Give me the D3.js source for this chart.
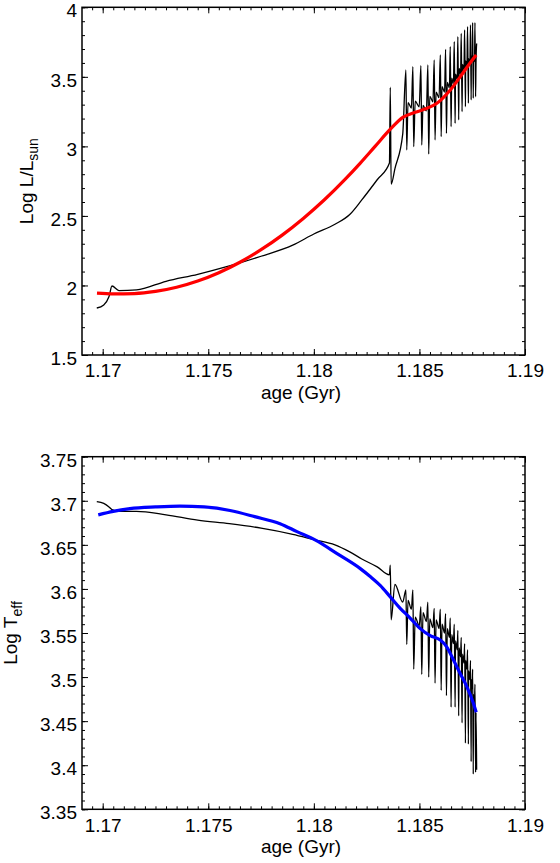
<!DOCTYPE html>
<html>
<head>
<meta charset="utf-8">
<script src="https://cdn.jsdelivr.net/npm/d3@7"></script>
<style>
  body, html { margin:0; padding:0; background:#fff; }
  text { font-family:"Liberation Sans", Arial, sans-serif; fill:#000; }
</style>
</head>
<body>
<svg id="chart" width="560" height="863"></svg>
<script>
// x axis (shared)
var xTicks = [1.17, 1.175, 1.18, 1.185, 1.19];
var xTickLabels = ["1.17", "1.175", "1.18", "1.185", "1.19"];

// top panel y axis
var lumTicks = [1.5, 2, 2.5, 3, 3.5, 4];
var lumTickLabels = ["1.5", "2", "2.5", "3", "3.5", "4"];
// bottom panel y axis
var teffTicks = [3.35, 3.4, 3.45, 3.5, 3.55, 3.6, 3.65, 3.7, 3.75];
var teffTickLabels = ["3.35", "3.4", "3.45", "3.5", "3.55", "3.6", "3.65", "3.7", "3.75"];

// detailed model track (black)
var modelAge = [
  1.16972, 1.17005, 1.1703, 1.17044, 1.17077, 1.1716, 1.1730, 1.1745, 1.1760, 1.1775, 1.1790, 1.1800, 1.1810, 1.1817, 1.18227, 1.1830, 1.18358,
  1.18362, 1.18366, 1.18384, 1.18421,
  1.18436, 1.18440, 1.18446, 1.18462,
  1.18469, 1.18473, 1.18480, 1.18499,
  1.18507, 1.18511, 1.18517, 1.18533,
  1.18540, 1.18544, 1.18549, 1.18564,
  1.18570, 1.18574, 1.18579, 1.18593,
  1.18599, 1.18603, 1.18607, 1.18619,
  1.18624, 1.18628, 1.18632, 1.18642,
  1.18646, 1.18650, 1.18653, 1.18661,
  1.18665, 1.18669, 1.18671, 1.18679,
  1.18682, 1.18686, 1.18688, 1.18695,
  1.18698, 1.18702, 1.18704, 1.18711,
  1.18714, 1.18718, 1.18719, 1.18725,
  1.18728, 1.18732, 1.18733, 1.18739,
  1.18742, 1.18745, 1.18746, 1.18750,
  1.18752, 1.18755, 1.18756, 1.18761,
  1.18763, 1.18766, 1.18768, 1.18771
];
var modelLogL = [
  1.838, 1.86, 1.92, 1.996, 1.963, 1.968, 2.03, 2.08, 2.14, 2.21, 2.29, 2.37, 2.44, 2.51, 2.615, 2.76, 2.88,
  3.425, 2.728, 2.84, 3.09,
  3.549, 2.974, 3.315, 3.275,
  3.573, 2.998, 3.325, 3.285,
  3.580, 3.010, 3.295, 3.255,
  3.585, 2.945, 3.36, 3.32,
  3.621, 3.046, 3.39, 3.35,
  3.657, 3.070, 3.43, 3.39,
  3.698, 3.094, 3.46, 3.42,
  3.717, 3.142, 3.49, 3.45,
  3.753, 3.166, 3.52, 3.48,
  3.789, 3.190, 3.56, 3.52,
  3.813, 3.250, 3.59, 3.55,
  3.837, 3.285, 3.615, 3.575,
  3.861, 3.310, 3.63, 3.59,
  3.873, 3.334, 3.65, 3.61,
  3.889, 3.346, 3.65, 3.61,
  3.889, 3.357, 3.60, 3.74
];
var modelLogTeff = [
  3.699, 3.697, 3.693, 3.690, 3.688, 3.688, 3.684, 3.678, 3.674, 3.669, 3.662, 3.656, 3.650, 3.642, 3.634, 3.625, 3.616,
  3.627, 3.565, 3.605, 3.585,
  3.599, 3.537, 3.587, 3.577,
  3.599, 3.509, 3.568, 3.558,
  3.580, 3.503, 3.573, 3.563,
  3.585, 3.500, 3.566, 3.556,
  3.578, 3.493, 3.565, 3.555,
  3.577, 3.485, 3.560, 3.550,
  3.572, 3.479, 3.555, 3.545,
  3.567, 3.466, 3.548, 3.538,
  3.560, 3.466, 3.541, 3.531,
  3.553, 3.456, 3.533, 3.523,
  3.545, 3.448, 3.526, 3.516,
  3.538, 3.425, 3.519, 3.509,
  3.531, 3.424, 3.507, 3.497,
  3.519, 3.404, 3.497, 3.487,
  3.509, 3.390, 3.480, 3.470,
  3.492, 3.392, 3.46, 3.395
];

// smooth fits (red / blue)
var fitLumAge = [1.16973, 1.1705, 1.1715, 1.1725, 1.1735, 1.1745, 1.1755, 1.1765, 1.1775, 1.1785, 1.1795, 1.1805, 1.1815, 1.1822, 1.1829, 1.1836, 1.18423, 1.1848, 1.18536, 1.18583, 1.18646, 1.18693, 1.18733, 1.18769];
var fitLogL = [1.945, 1.94, 1.942, 1.957, 1.987, 2.032, 2.092, 2.167, 2.257, 2.362, 2.482, 2.616, 2.766, 2.88, 3.00, 3.12, 3.21, 3.245, 3.274, 3.31, 3.405, 3.50, 3.585, 3.657];

var fitTeffAge = [1.16979, 1.1705, 1.17129, 1.1725, 1.17366, 1.1748, 1.17603, 1.1772, 1.1784, 1.1792, 1.1801, 1.1811, 1.1822, 1.18267, 1.18314, 1.18362, 1.18409, 1.18456, 1.18504, 1.18551, 1.18599, 1.1863, 1.18662, 1.18693, 1.18725, 1.18756, 1.18769];
var fitLogTeff = [3.684, 3.688, 3.691, 3.693, 3.694, 3.693, 3.689, 3.682, 3.674, 3.665, 3.655, 3.640, 3.623, 3.614, 3.604, 3.591, 3.578, 3.567, 3.555, 3.547, 3.542, 3.534, 3.519, 3.504, 3.489, 3.470, 3.460];

var svg = d3.select("#chart");
var xLeft = 82, xRight = 525;
var x = d3.scaleLinear().domain([1.16902, 1.19]).range([xLeft, xRight]);
var xMinor = d3.range(1.1695, 1.1901, 0.0005);

function styleAxis(g) {
  g.select(".domain").remove();
  g.selectAll("line").attr("stroke", "#000").attr("stroke-width", 1);
  g.attr("font-family", null).attr("font-size", null);
  g.selectAll("text").style("font-size", "19px");
}

function drawPanel(p) {
  var y = d3.scaleLinear().domain(p.yDomain).range([p.bottom, p.top]);
  var g = svg.append("g");

  // minor ticks
  g.append("g").attr("transform", "translate(0," + p.bottom + ")")
    .call(d3.axisBottom(x).tickValues(xMinor).tickSize(-3).tickFormat("")).call(styleAxis);
  g.append("g").attr("transform", "translate(0," + p.top + ")")
    .call(d3.axisTop(x).tickValues(xMinor).tickSize(-3).tickFormat("")).call(styleAxis);
  g.append("g").attr("transform", "translate(" + xLeft + ",0)")
    .call(d3.axisLeft(y).tickValues(p.yMinor).tickSize(-3).tickFormat("")).call(styleAxis);
  g.append("g").attr("transform", "translate(" + xRight + ",0)")
    .call(d3.axisRight(y).tickValues(p.yMinor).tickSize(-3).tickFormat("")).call(styleAxis);

  // major ticks
  g.append("g").attr("transform", "translate(0," + p.bottom + ")")
    .call(d3.axisBottom(x).tickValues(xTicks).tickSize(-6).tickPadding(9)
      .tickFormat(function(d, i){ return xTickLabels[i]; })).call(styleAxis);
  g.append("g").attr("transform", "translate(0," + p.top + ")")
    .call(d3.axisTop(x).tickValues(xTicks).tickSize(-6).tickFormat("")).call(styleAxis);
  var yAx = g.append("g").attr("transform", "translate(" + xLeft + ",0)")
    .call(d3.axisLeft(y).tickValues(p.yTicks).tickSize(-6).tickPadding(5)
      .tickFormat(function(d, i){ return p.yTickLabels[i]; })).call(styleAxis);
  yAx.selectAll("text").attr("dy", "0.5em");
  g.append("g").attr("transform", "translate(" + xRight + ",0)")
    .call(d3.axisRight(y).tickValues(p.yTicks).tickSize(-6).tickFormat("")).call(styleAxis);

  var line = d3.line().x(function(d){ return x(d[0]); }).y(function(d){ return y(d[1]); })
    .curve(d3.curveMonotoneX);

  g.append("path").datum(d3.zip(modelAge, p.model))
    .attr("d", line).attr("fill", "none").attr("stroke", "#000")
    .attr("stroke-width", 1.3).attr("stroke-linejoin", "round");
  g.append("path").datum(d3.zip(p.fitAge, p.fit))
    .attr("d", line).attr("fill", "none").attr("stroke", p.fitColor)
    .attr("stroke-width", 3.2).attr("stroke-linejoin", "round");

  // frame
  g.append("rect").attr("x", xLeft).attr("y", p.top)
    .attr("width", xRight - xLeft).attr("height", p.bottom - p.top)
    .attr("fill", "none").attr("stroke", "#000").attr("stroke-width", 1.5);

  // axis titles
  g.append("text").attr("x", 301).attr("y", p.bottom + 44)
    .attr("text-anchor", "middle").style("font-size", "19px").text("age (Gyr)");

  var yl = g.append("text")
    .attr("transform", "translate(" + p.labelX + "," + ((p.top + p.bottom) / 2) + ") rotate(-90)")
    .attr("text-anchor", "middle").style("font-size", "19px");
  yl.append("tspan").text(p.label);
  yl.append("tspan").attr("dy", 5).style("font-size", "14px").text(p.sub);
}

drawPanel({
  top: 7.3, bottom: 355, yDomain: [1.5, 4],
  yTicks: lumTicks, yTickLabels: lumTickLabels, yMinor: d3.range(1.5, 4.001, 0.1),
  model: modelLogL, fitAge: fitLumAge, fit: fitLogL, fitColor: "#ff0000",
  label: "Log L/L", sub: "sun", labelX: 33
});

drawPanel({
  top: 456.7, bottom: 809.3, yDomain: [3.35, 3.75],
  yTicks: teffTicks, yTickLabels: teffTickLabels, yMinor: d3.range(3.35, 3.7501, 0.01),
  model: modelLogTeff, fitAge: fitTeffAge, fit: fitLogTeff, fitColor: "#0000ff",
  label: "Log T", sub: "eff", labelX: 17
});
</script>
</body>
</html>
